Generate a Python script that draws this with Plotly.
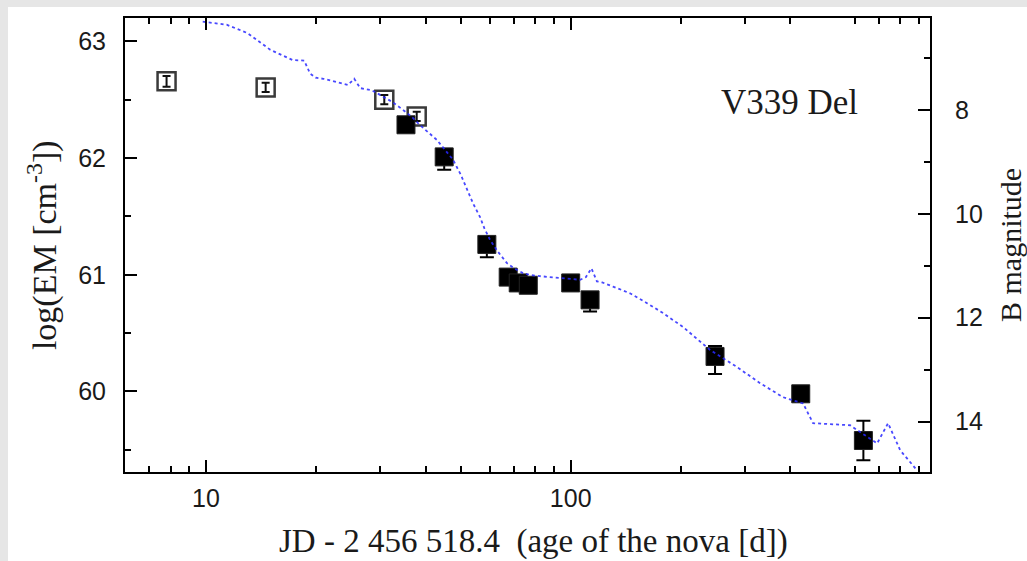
import math
import plotly.graph_objects as go

# ---- data ----
# B-band light curve (days since JD 2456518.4, B magnitude)
lc_days = [9.8, 11.4, 13.0, 15.0, 17.3, 18.6, 19.3, 20.0, 21.0, 22.9, 24.5, 25.5, 26.5, 28.5,
           30.6, 32.5, 34.7, 36.5, 38.6, 41.0, 43.0, 45.0, 47.6, 50.0, 52.0, 54.0, 56.4,
           58.0, 60.1, 63.0, 66.9, 70.0, 74.0, 78.0, 82.4, 88.0, 95.3, 100.0, 106.1, 110.0,
           114.0, 118.0, 122.0, 130.6, 145.4, 161.9, 179.1, 203.3, 241.0, 285.8, 330.5,
           382.1, 433.6, 461.7, 583.3, 691.8, 741.6, 800.0, 890.6]
lc_bmag = [6.30, 6.36, 6.52, 6.84, 7.04, 7.05, 7.30, 7.38, 7.40, 7.46, 7.52, 7.40, 7.58, 7.62,
           7.75, 7.85, 8.00, 8.12, 8.29, 8.45, 8.58, 8.75, 8.96, 9.25, 9.54, 9.80, 10.06,
           10.28, 10.50, 10.72, 10.95, 11.05, 11.14, 11.18, 11.20, 11.22, 11.24, 11.25, 11.27, 11.22,
           11.05, 11.30, 11.32, 11.40, 11.53, 11.72, 11.91, 12.18, 12.62, 12.95, 13.26,
           13.53, 13.65, 14.03, 14.07, 14.42, 14.03, 14.55, 14.94]

# Emission measure (filled squares)
em_days = [35.35, 45.0, 58.9, 67.4, 71.8, 76.5, 100.0, 113.0, 248.7, 427.2, 634.4]
em_log = [62.285, 62.01, 61.26, 60.98, 60.93, 60.91, 60.93, 60.785, 60.30, 59.98, 59.58]
em_err_plus = [0.03, 0.03, 0.03, 0.03, 0.03, 0.03, 0.03, 0.03, 0.09, 0.03, 0.17]
em_err_minus = [0.03, 0.11, 0.11, 0.03, 0.03, 0.03, 0.03, 0.10, 0.15, 0.03, 0.17]

# Emission measure (open squares)
em_open_days = [7.80, 14.58, 30.83, 37.83]
em_open_log = [62.657, 62.605, 62.50, 62.357]
em_open_err = [0.045, 0.04, 0.04, 0.04]

x_major = [10, 100]
x_minor = [7, 8, 9, 20, 30, 40, 50, 60, 70, 80, 90, 200, 300, 400, 600, 700, 800, 900]
x_extra = [500]
y_major = [60, 61, 62, 63]
y_minor = [59.5, 60.5, 61.5, 62.5]
y2_major = [8, 10, 12, 14]
y2_minor = [7, 9, 11, 13]

xr = [math.log10(6.0), math.log10(966)]
yr = [59.31, 63.2]
y2r = [14.97, 6.23]

tickfont = dict(family="Liberation Sans, Arial, sans-serif", size=25, color="#1a1a1a")
titlefont = dict(family="Liberation Serif, Times New Roman, serif", size=34, color="#1a1a1a")

fig = go.Figure()

fig.add_trace(go.Scatter(
    x=em_open_days, y=em_open_log, mode="markers",
    marker=dict(symbol="square", size=18, color="white", line=dict(color="#3a3a3a", width=2.5)),
    xaxis="x", yaxis="y", showlegend=False, hoverinfo="skip"))
fig.add_trace(go.Scatter(
    x=em_open_days, y=em_open_log, mode="markers",
    marker=dict(size=1, color="rgba(0,0,0,0)"),
    error_y=dict(type="data", array=em_open_err, color="#111", thickness=2, width=4),
    xaxis="x", yaxis="y", showlegend=False))
fig.add_trace(go.Scatter(
    x=em_days, y=em_log, mode="markers",
    marker=dict(symbol="square", size=18, color="black", line=dict(color="#222", width=1)),
    error_y=dict(type="data", symmetric=False, array=em_err_plus, arrayminus=em_err_minus,
                 color="black", thickness=2, width=7),
    xaxis="x", yaxis="y", showlegend=False))

fig.add_trace(go.Scatter(
    x=lc_days, y=lc_bmag, mode="lines",
    line=dict(color="rgba(40,40,255,0.85)", width=1.8, dash="dot"),
    xaxis="x", yaxis="y2", showlegend=False))

axis_common = dict(showgrid=False, zeroline=False, linecolor="black", linewidth=2,
                   ticks="inside", tickcolor="black", tickwidth=2, tickfont=tickfont)

fig.update_layout(
    width=1027, height=561,
    margin=dict(l=125, r=97, t=18, b=89),
    paper_bgcolor="#e6e6e6", plot_bgcolor="white",
    xaxis=dict(type="log", range=xr, tickmode="array", tickvals=x_major,
               ticktext=[str(v) for v in x_major], ticklen=12, mirror="ticks",
               showline=True, ticklabelstandoff=3,
               minor=dict(tickmode="array", tickvals=x_minor, ticks="inside", ticklen=6,
                          tickcolor="black", tickwidth=2),
               **axis_common),
    xaxis2=dict(type="log", range=xr, overlaying="x", anchor="y", side="bottom",
                tickmode="array", tickvals=x_extra, ticktext=[str(v) for v in x_extra],
                ticklen=6, mirror="ticks", showline=False, ticklabelstandoff=3,
                showgrid=False, zeroline=False, ticks="inside", tickcolor="black",
                tickwidth=2, tickfont=tickfont),
    yaxis=dict(range=yr, tickmode="array", tickvals=y_major,
               ticktext=[str(v) for v in y_major], ticklen=12, showline=True, mirror=False,
               ticklabelstandoff=12,
               minor=dict(tickmode="array", tickvals=y_minor, ticks="inside", ticklen=6,
                          tickcolor="black", tickwidth=2),
               **axis_common),
    yaxis2=dict(range=y2r, overlaying="y", side="right", anchor="x", tickmode="array",
                tickvals=y2_major, ticktext=[str(v) for v in y2_major], ticklen=12,
                showline=True, ticklabelstandoff=18,
                minor=dict(tickmode="array", tickvals=y2_minor, ticks="inside", ticklen=6,
                           tickcolor="black", tickwidth=2),
                **axis_common),
    shapes=[dict(type="rect", xref="paper", yref="paper", x0=-0.1453, x1=1.2,
                 y0=-0.3, y1=1.0242, fillcolor="white", line=dict(width=0), layer="below")],
    annotations=[
        dict(text="V339 Del", xref="paper", yref="paper", x=0.826, y=0.813,
             showarrow=False, font=dict(titlefont, size=35), xanchor="center", yanchor="middle"),
        dict(text="log(EM [cm<sup>-3</sup>])", xref="paper", yref="paper", x=-0.103, y=0.5,
             textangle=-90, showarrow=False, font=titlefont, xanchor="center", yanchor="middle"),
        dict(text="B magnitude", xref="paper", yref="paper", x=(1010 - 125) / 805, y=0.5,
             textangle=-90, showarrow=False, font=dict(titlefont, size=30),
             xanchor="center", yanchor="middle"),
        dict(text="JD - 2\u00a0456\u00a0518.4\u00a0\u00a0(age of the nova [d])", xref="paper",
             yref="paper", x=0.507, y=-0.153, showarrow=False, font=dict(titlefont, size=33),
             xanchor="center", yanchor="middle"),
    ],
)

fig.write_html("out.html")
